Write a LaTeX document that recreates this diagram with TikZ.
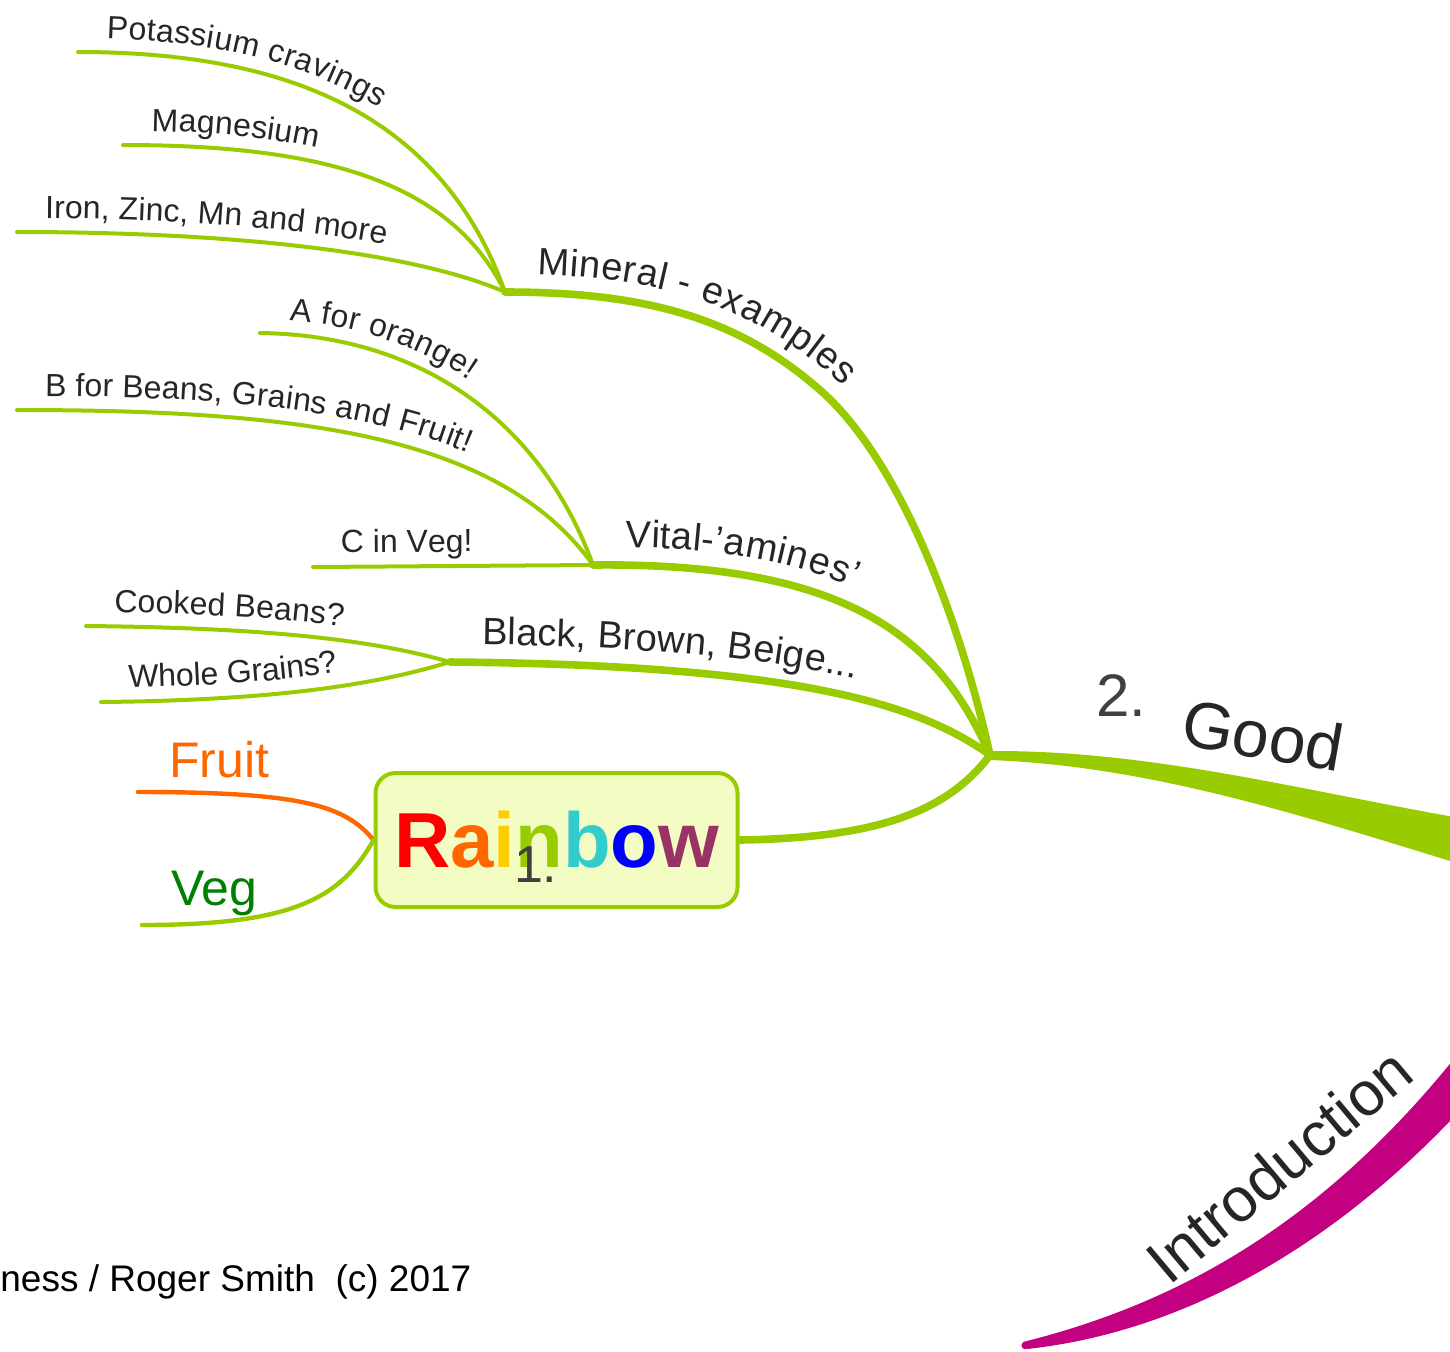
\documentclass[tikz,border=0pt]{standalone}
\usepackage{fontspec}
\setmainfont{Liberation Sans}
\usetikzlibrary{decorations.text}
\definecolor{branchgreen}{RGB}{153,204,0}
\definecolor{labelgray}{RGB}{38,38,38}
\definecolor{numgray}{RGB}{64,64,64}
\definecolor{boxfill}{RGB}{243,252,194}
\definecolor{fruitorange}{RGB}{255,102,0}
\definecolor{veggreen}{RGB}{0,128,0}
\definecolor{intromagenta}{RGB}{194,0,128}
\definecolor{rbred}{RGB}{255,0,0}
\definecolor{rborange}{RGB}{255,102,0}
\definecolor{rbyellow}{RGB}{255,204,0}
\definecolor{rbgreen}{RGB}{153,204,0}
\definecolor{rbcyan}{RGB}{51,204,204}
\definecolor{rbblue}{RGB}{0,0,255}
\definecolor{rbpurple}{RGB}{153,51,102}
\newcommand\twigfont{\fontsize{16}{16}\selectfont}
\newcommand\boughfont{\fontsize{19}{19}\selectfont}
\tikzset{
  twig/.style={draw=branchgreen, line width=2pt, line cap=round},
  bough/.style={draw=branchgreen, line width=3.8pt, line cap=round},
  twiglabel/.style={postaction={decorate, decoration={text along path,
      text={|\color{labelgray}\twigfont|#1}, text align={left indent=14pt}, raise=7pt}}},
  boughlabel/.style={postaction={decorate, decoration={text along path,
      text={|\color{labelgray}\boughfont|#1}, text align={left indent=16pt}, raise=9pt}}},
  rainbowbox/.style={draw=branchgreen, line width=2pt, fill=boxfill, rounded corners=10pt,
      minimum width=181pt, minimum height=67pt, inner sep=0pt}
}

\begin{document}
\begin{tikzpicture}[x=0.5pt,y=-0.5pt]
\useasboundingbox (0,0) rectangle (1450,1351);
\clip (0,0) rectangle (1450,1351);
% Junctions
\coordinate (hub) at (990,755);
\coordinate (mineral) at (505,292);
\coordinate (vital) at (593,565);
\coordinate (black) at (450,662);
% Free ends of the twigs
\coordinate (potend) at (78,52);
\coordinate (magend) at (123,145);
\coordinate (ironend) at (17,232);
\coordinate (aend) at (260,333);
\coordinate (bend) at (17,410);
\coordinate (cend) at (313,567);
\coordinate (cookend) at (86,626);
\coordinate (wholeend) at (101,702);
\coordinate (fruitend) at (138,792);
\coordinate (vegend) at (142,925);

% Main branch: Good
\fill[branchgreen] (990,751) .. controls (1150,750) and (1300,790) .. (1460,818)
  -- (1460,864) .. controls (1300,815) and (1150,766) .. (990,760) -- cycle;
\node[anchor=base west, text=numgray, font=\fontsize{30}{30}\selectfont] (goodnum) at (1089,716) {2.};
\node[text=labelgray, rotate=-10, font=\fontsize{33}{33}\selectfont] (good) at (1263,735) {Good};

% Main branch: Introduction
\fill[intromagenta] (1023,1342) .. controls (1170,1305) and (1320,1230) .. (1465,1045)
  -- (1465,1105) .. controls (1350,1230) and (1200,1330) .. (1027,1349) -- cycle;
\fill[intromagenta] (1025,1345.5) circle (3.6);
\node[text=labelgray, rotate=40, font=\fontsize{31}{31}\selectfont] (intro) at (1279,1165) {Introduction};

% Boughs from the hub
\draw[bough, boughlabel={Mineral - examples}] (mineral) .. controls (650,292) and (740,320) .. (820,390)
  .. controls (900,460) and (960,620) .. (hub);
\draw[bough, boughlabel={Vital-'amines'}] (vital) .. controls (850,562) and (940,640) .. (hub);
\draw[bough, boughlabel={Black, Brown, Beige...}] (black) .. controls (800,665) and (920,705) .. (hub);

% Mineral twigs
\draw[twig, twiglabel={Potassium cravings}] (potend) .. controls (280,52) and (440,110) .. (mineral);
\draw[twig, twiglabel={Magnesium}] (magend) .. controls (320,145) and (450,180) .. (mineral);
\draw[twig, twiglabel={Iron, Zinc, Mn and more}] (ironend) .. controls (250,232) and (420,255) .. (mineral);
% Vital twigs
\draw[twig, twiglabel={A for orange!}] (aend) .. controls (420,335) and (540,420) .. (vital);
\draw[twig, twiglabel={B for Beans, Grains and Fruit!}] (bend) .. controls (300,410) and (500,435) .. (vital);
\draw[twig, twiglabel={C in Veg!}] (cend) -- (vital);
% Black twigs
\draw[twig, twiglabel={Cooked Beans?}] (cookend) .. controls (300,628) and (390,645) .. (black);
\draw[twig, twiglabel={Whole Grains?}] (wholeend) .. controls (300,700) and (390,680) .. (black);

% Rainbow box
\node[rainbowbox] (rainbow) at (556.5,840) {\fontsize{39}{39}\selectfont\bfseries
  \textcolor{rbred}{R}\textcolor{rborange}{a}\textcolor{rbyellow}{i}\textcolor{rbgreen}{n}%
  \textcolor{rbcyan}{b}\textcolor{rbblue}{o}\textcolor{rbpurple}{w}};
\node[anchor=base west, text=numgray, font=\fontsize{26}{26}\selectfont] (rainbownum) at (507,882) {1.};
\draw[bough] (rainbow.east) .. controls (870,838) and (945,815) .. (hub);
\draw[draw=fruitorange, line width=2.2pt, line cap=round] (rainbow.west) .. controls (345,805) and (300,792) .. (fruitend);
\draw[draw=branchgreen, line width=2.2pt, line cap=round] (rainbow.west) .. controls (340,900) and (290,925) .. (vegend);
\node[anchor=base west, text=fruitorange, font=\fontsize{25}{25}\selectfont] (fruit) at (162,777) {Fruit};
\node[anchor=base west, text=veggreen, font=\fontsize{25}{25}\selectfont] (veg) at (164,905) {Veg};

% Footer
\node[anchor=base west, text=black, font=\fontsize{18.5}{18.5}\selectfont, inner sep=0pt] (footer) at (0,1291) {ness / Roger Smith\ \ (c) 2017};
\end{tikzpicture}
\end{document}
